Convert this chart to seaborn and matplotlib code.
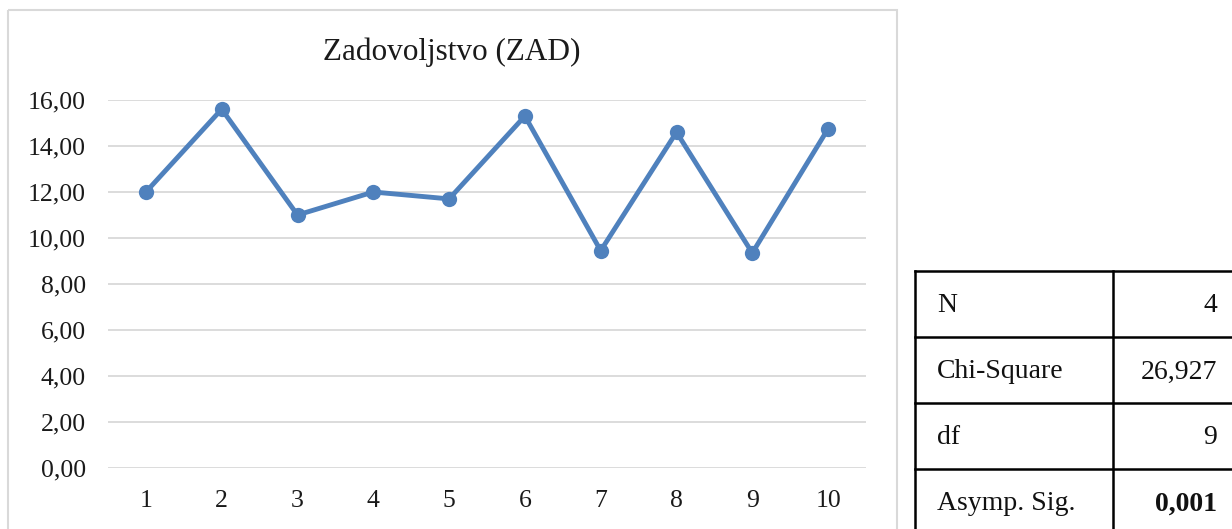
import matplotlib
matplotlib.use("Agg")
import matplotlib.pyplot as plt
from matplotlib.patches import Rectangle
from matplotlib.lines import Line2D
import seaborn as sns
import pandas as pd

# ---- data ----
categories = [1, 2, 3, 4, 5, 6, 7, 8, 9, 10]
zad_values = [12.0, 15.6, 11.0, 12.0, 11.7, 15.3, 9.45, 14.6, 9.35, 14.75]
y_ticks = [0, 2, 4, 6, 8, 10, 12, 14, 16]
title_text = "Zadovoljstvo (ZAD)"
table_labels = ["N", "Chi-Square", "df", "Asymp. Sig."]
table_values = ["4", "26,927", "9", "0,001"]

sns.set_style("white")
plt.rcParams["font.family"] = ["Liberation Serif", "DejaVu Serif"]

W, H = 1232, 529
fig = plt.figure(figsize=(W / 100, H / 100), dpi=100)

# overlay for frame and table (pixel coordinates)
ov = fig.add_axes([0, 0, 1, 1], zorder=0)
ov.set_xlim(0, W)
ov.set_ylim(H, 0)
ov.axis("off")
ov.add_patch(Rectangle((8, 10), 897 - 8, 540 - 10, fill=False,
                       edgecolor="#d9d9d9", lw=1.5))

# table
col_x = [915, 1113, 1245]
row_y = [271, 337, 403, 469, 535]
lw_t = 1.8
for y in row_y:
    ov.add_line(Line2D([col_x[0], col_x[-1]], [y, y], color="black", lw=lw_t,
                       solid_capstyle="projecting"))
for x in col_x:
    ov.add_line(Line2D([x, x], [row_y[0], row_y[-1]], color="black", lw=lw_t,
                       solid_capstyle="projecting"))
for i, (lab, val) in enumerate(zip(table_labels, table_values)):
    yc = (row_y[i] + row_y[i + 1]) / 2 + 2
    ov.text(937, yc, lab, ha="left", va="center", fontsize=20, color="#111111")
    ov.text(1217, yc, val, ha="right", va="center", fontsize=20, color="#111111",
            fontweight="bold" if i == len(table_labels) - 1 else "normal")

# main chart
ax = fig.add_axes([108 / W, 1 - 468 / H, (866 - 108) / W, 368 / H], zorder=2)
ax.patch.set_alpha(0)
df = pd.DataFrame({"cat": categories, "val": zad_values})
sns.lineplot(data=df, x="cat", y="val", ax=ax, color="#4f81bd", lw=3.5,
             marker="o", markersize=11, markeredgewidth=0, clip_on=False)
ax.set_xlim(0.5, 10.5)
ax.set_ylim(0, 16)
ax.set_xticks(categories)
ax.set_xticklabels([str(c) for c in categories])
ax.set_yticks(y_ticks)
ax.set_yticklabels([f"{v:.2f}".replace(".", ",") for v in y_ticks])
ax.set_xlabel("")
ax.set_ylabel("")
ax.grid(axis="y", color="#d9d9d9", lw=1.3)
ax.grid(axis="x", visible=False)
for s in ax.spines.values():
    s.set_visible(False)
ax.tick_params(axis="y", length=0, pad=16, labelsize=18.5, labelcolor="#1a1a1a")
ax.tick_params(axis="x", length=0, pad=16, labelsize=18.5, labelcolor="#1a1a1a")

fig.text(452 / W, 1 - 52 / H, title_text, ha="center", va="center",
         fontsize=22.5, color="#1a1a1a")

fig.savefig("out.png", dpi=100)
